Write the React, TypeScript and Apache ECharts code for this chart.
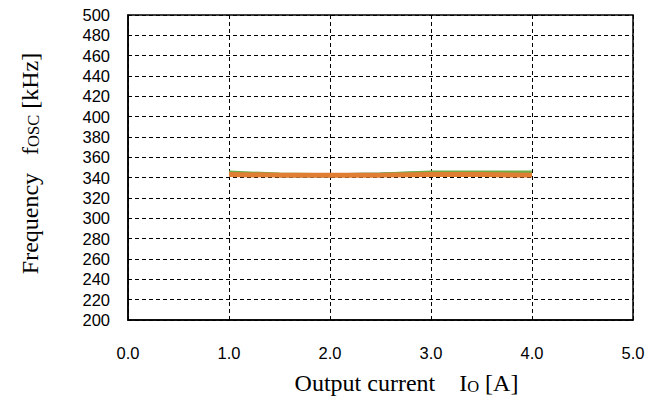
import React, { useEffect, useRef } from "react";
import * as echarts from "echarts";

const xValues = [1.0, 1.5, 2.0, 2.5, 3.0, 3.5, 4.0];
const seriesTeal = [343.5, 342.5, 342.5, 343, 344.5, 344.5, 344.5];
const seriesGreen = [345, 343, 342.5, 343, 345, 345, 345];
const seriesOrange = [343, 342.5, 342.5, 342.5, 343, 343, 342.5];
const yTicks = { min: 200, max: 500, interval: 20 };
const xTicks = { min: 0, max: 5, interval: 1 };

const toPairs = (ys: number[]) => xValues.map((x, i) => [x, ys[i]]);

export default function App() {
  const ref = useRef<HTMLDivElement>(null);
  useEffect(() => {
    const chart = echarts.init(ref.current!, undefined, { renderer: "svg" });
    const dashed = { show: true, lineStyle: { color: "#000", type: [4, 3], width: 1 } };
    const sub = { fontFamily: "Liberation Serif", fontSize: 16.5, color: "#000", padding: [6, 0, 0, 0] };
    chart.setOption({
      animation: false,
      backgroundColor: "#fff",
      grid: { left: 128, right: 32, top: 15, bottom: 80, show: true, borderColor: "#000", borderWidth: 1.5 },
      xAxis: {
        type: "value",
        min: xTicks.min,
        max: xTicks.max,
        interval: xTicks.interval,
        axisLine: { show: true, lineStyle: { color: "#000", width: 1.5 } },
        axisTick: { show: false },
        splitLine: dashed,
        axisLabel: {
          color: "#000",
          fontFamily: "Liberation Sans",
          fontSize: 16.5,
          margin: 24,
          formatter: (v: number) => v.toFixed(1),
        },
        name: "Output current\u3000I{s|O} [A]",
        nameLocation: "middle",
        nameGap: 51,
        nameTextStyle: {
          color: "#000",
          fontFamily: "Liberation Serif",
          fontSize: 24,
          padding: [0, 0, 0, 52],
          rich: { s: sub },
        },
      },
      yAxis: {
        type: "value",
        min: yTicks.min,
        max: yTicks.max,
        interval: yTicks.interval,
        axisLine: { show: true, lineStyle: { color: "#000", width: 1.5 } },
        axisTick: { show: false },
        splitLine: dashed,
        axisLabel: {
          color: "#000",
          fontFamily: "Liberation Sans",
          fontSize: 16.5,
          margin: 18,
        },
        name: "Frequency   f{s|OSC} [kHz]",
        nameLocation: "middle",
        nameGap: 86,
        nameTextStyle: {
          color: "#000",
          fontFamily: "Liberation Serif",
          fontSize: 24,
          padding: [0, 0, 0, 8],
          rich: { s: sub },
        },
      },
      series: [
        {
          type: "line",
          data: toPairs(seriesTeal),
          showSymbol: false,
          lineStyle: { color: "#3A9AA5", width: 4 },
        },
        {
          type: "line",
          data: toPairs(seriesGreen),
          showSymbol: false,
          lineStyle: { color: "#70AD47", width: 4 },
        },
        {
          type: "line",
          data: toPairs(seriesOrange),
          showSymbol: false,
          lineStyle: { color: "#E07E33", width: 5 },
        },
      ],
    });
    return () => chart.dispose();
  }, []);
  return <div ref={ref} style={{ width: 665, height: 400, position: "absolute", left: 0, top: 0 }} />;
}
